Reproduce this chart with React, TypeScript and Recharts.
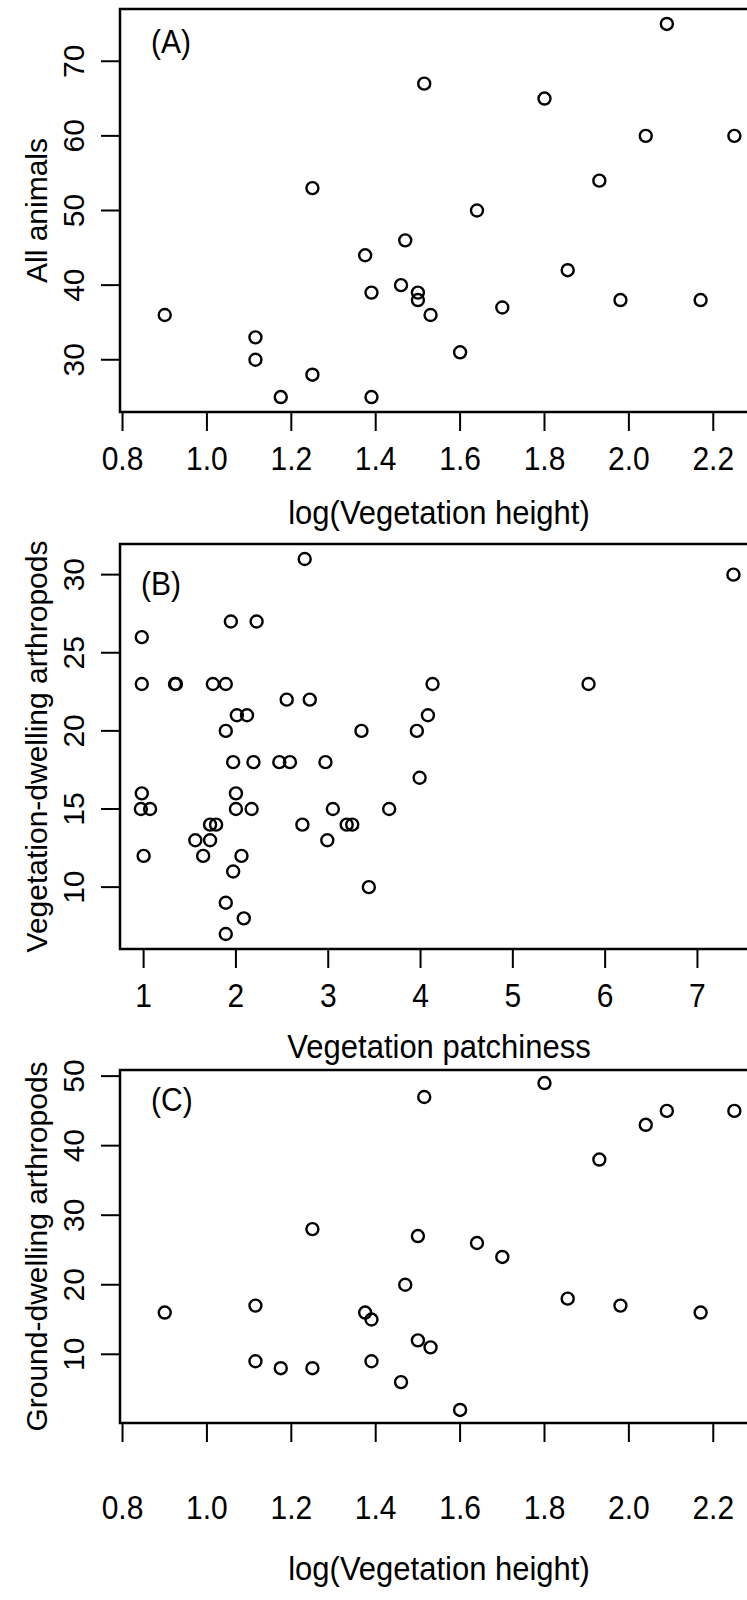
import React from "react";
import { ScatterChart, Scatter, XAxis, YAxis, ReferenceArea } from "recharts";

const FONT = '"Liberation Sans", Arial, Helvetica, sans-serif';

// sites shared by panels (A) and (C)
const logHeight = [
  2.09, 1.515, 1.8, 2.04, 2.25, 1.25, 1.93, 1.64, 1.47, 1.375, 1.855, 1.46, 1.39,
  1.5, 1.5, 1.98, 2.17, 1.7, 0.9, 1.53, 1.115, 1.115, 1.6, 1.25, 1.175, 1.39,
];
const allAnimals = [
  75, 67, 65, 60, 60, 53, 54, 50, 46, 44, 42, 40, 39,
  39, 38, 38, 38, 37, 36, 36, 33, 30, 31, 28, 25, 25,
];
const groundArthropods = [
  45, 47, 49, 43, 45, 28, 38, 26, 20, 16, 18, 6, 15,
  27, 12, 17, 16, 24, 16, 11, 17, 9, 2, 8, 8, 9,
];

// panel (B)
const patchiness = [
  2.745, 7.39, 1.945, 2.224, 0.98, 0.98, 1.34, 1.35, 1.75, 1.89, 4.13, 5.82,
  2.55, 2.8, 2.01, 2.12, 4.08, 1.89, 3.36, 3.96, 1.97, 2.19, 2.47, 2.585, 2.97,
  3.99, 0.98, 2.0, 0.97, 1.07, 2.0, 2.17, 3.05, 3.66, 1.72, 1.785, 2.72, 3.2,
  3.26, 1.56, 1.72, 2.99, 1.0, 1.645, 2.06, 1.97, 3.44, 1.89, 2.085, 1.89,
];
const vegArthropods = [
  31, 30, 27, 27, 26, 23, 23, 23, 23, 23, 23, 23,
  22, 22, 21, 21, 21, 20, 20, 20, 18, 18, 18, 18, 18,
  17, 16, 16, 15, 15, 15, 15, 15, 15, 14, 14, 14, 14,
  14, 13, 13, 13, 12, 12, 12, 11, 10, 9, 8, 7,
];

const heightTicks = [0.8, 1.0, 1.2, 1.4, 1.6, 1.8, 2.0, 2.2];
const patchTicks = [1, 2, 3, 4, 5, 6, 7];
const animalTicks = [30, 40, 50, 60, 70];
const vegTicks = [10, 15, 20, 25, 30];
const groundTicks = [10, 20, 30, 40, 50];

const toPoints = (xs: number[], ys: number[]) => xs.map((x, i) => ({ x, y: ys[i] }));

const ring = (p: any) => (
  <circle cx={p.cx} cy={p.cy} r={6} fill="none" stroke="#000" strokeWidth={2.4} />
);

// horizontal text, a little taller than wide like the original figure
const HText = ({ x, y, size, anchor, children }: any) => (
  <text
    transform={`translate(${x} ${y}) scale(1 1.1)`}
    textAnchor={anchor || "middle"}
    fontSize={size}
    fontFamily={FONT}
    fill="#000"
  >
    {children}
  </text>
);

// text read bottom-to-top, baseline on the right
const VText = ({ x, y, size, children }: any) => (
  <text
    transform={`translate(${x} ${y}) rotate(-90)`}
    textAnchor="middle"
    fontSize={size}
    fontFamily={FONT}
    fill="#000"
  >
    {children}
  </text>
);

interface PanelProps {
  data: { x: number; y: number }[];
  xDomain: [number, number];
  yDomain: [number, number];
  xTicks: number[];
  yTicks: number[];
  xDigits: number;
  xTitle: string;
  yTitle: string;
  tag: string;
  top: number;
  height: number;
  plotTop: number;
  plotHeight: number;
  tagDx: number;
  tagDy: number;
  labelDy: number;
  titleGap: number;
  z: number;
}

const TICK = 19;
const AXIS_W = 120;
const TICK_LABEL_X = 84; // baseline of the rotated y tick labels
const TITLE_X = 47; // baseline of the rotated y titles

function Panel(props: PanelProps) {
  const {
    data, xDomain, yDomain, xTicks, yTicks, xDigits, xTitle, yTitle, tag,
    top, height, plotTop, plotHeight, tagDx, tagDy, labelDy, titleGap, z,
  } = props;

  return (
    <div style={{ position: "absolute", left: 0, top, zIndex: z }}>
      <ScatterChart
        width={758}
        height={height}
        margin={{ top: plotTop, right: 0, bottom: 0, left: 0 }}
      >
        <XAxis
          type="number"
          dataKey="x"
          domain={xDomain}
          allowDataOverflow
          ticks={xTicks}
          interval={0}
          height={height - plotTop - plotHeight}
          axisLine={false}
          tickSize={TICK}
          tickMargin={0}
          tickLine={{ stroke: "#000", strokeWidth: 2 }}
          tick={(p: any) => (
            <HText x={p.x} y={p.y + labelDy} size={30}>
              {Number(p.payload.value).toFixed(xDigits)}
            </HText>
          )}
          label={({ viewBox }: any) => (
            <HText x={viewBox.x + viewBox.width / 2} y={viewBox.y + titleGap} size={31}>
              {xTitle}
            </HText>
          )}
        />
        <YAxis
          type="number"
          dataKey="y"
          domain={yDomain}
          allowDataOverflow
          ticks={yTicks}
          interval={0}
          width={AXIS_W}
          axisLine={false}
          tickSize={TICK}
          tickMargin={0}
          tickLine={{ stroke: "#000", strokeWidth: 2 }}
          tick={(p: any) => (
            <VText x={TICK_LABEL_X} y={p.y} size={30}>
              {p.payload.value}
            </VText>
          )}
          label={({ viewBox }: any) => (
            <VText x={TITLE_X} y={viewBox.y + viewBox.height / 2} size={30}>
              {yTitle}
            </VText>
          )}
        />
        <ReferenceArea
          x1={xDomain[0]}
          x2={xDomain[1]}
          y1={yDomain[0]}
          y2={yDomain[1]}
          ifOverflow="visible"
          fill="none"
          stroke="#000"
          strokeWidth={2.5}
          label={({ viewBox }: any) => (
            <HText x={viewBox.x + tagDx} y={viewBox.y + tagDy} size={30} anchor="start">
              {tag}
            </HText>
          )}
        />
        <Scatter data={data} shape={ring} isAnimationActive={false} />
      </ScatterChart>
    </div>
  );
}

export default function App() {
  return (
    <div
      style={{
        position: "absolute",
        left: 0,
        top: 0,
        width: 747,
        height: 1600,
        overflow: "hidden",
        background: "#fff",
      }}
    >
      <Panel
        data={toPoints(logHeight, allAnimals)}
        xDomain={[0.794, 2.306]}
        yDomain={[23, 77]}
        xTicks={heightTicks}
        yTicks={animalTicks}
        xDigits={1}
        xTitle="log(Vegetation height)"
        yTitle="All animals"
        tag="(A)"
        top={0}
        height={540}
        plotTop={9}
        plotHeight={403}
        tagDx={31}
        tagDy={44}
        labelDy={39}
        titleGap={112}
        z={3}
      />
      <Panel
        data={toPoints(patchiness, vegArthropods)}
        xDomain={[0.744, 7.656]}
        yDomain={[6.04, 31.96]}
        xTicks={patchTicks}
        yTicks={vegTicks}
        xDigits={0}
        xTitle="Vegetation patchiness"
        yTitle="Vegetation-dwelling arthropods"
        tag="(B)"
        top={520}
        height={565}
        plotTop={24}
        plotHeight={405}
        tagDx={21}
        tagDy={51}
        labelDy={39}
        titleGap={109}
        z={2}
      />
      <Panel
        data={toPoints(logHeight, groundArthropods)}
        xDomain={[0.794, 2.306]}
        yDomain={[0.12, 50.88]}
        xTicks={heightTicks}
        yTicks={groundTicks}
        xDigits={1}
        xTitle="log(Vegetation height)"
        yTitle="Ground-dwelling arthropods"
        tag="(C)"
        top={1040}
        height={560}
        plotTop={30}
        plotHeight={353}
        tagDx={31}
        tagDy={41}
        labelDy={77}
        titleGap={157}
        z={1}
      />
    </div>
  );
}
